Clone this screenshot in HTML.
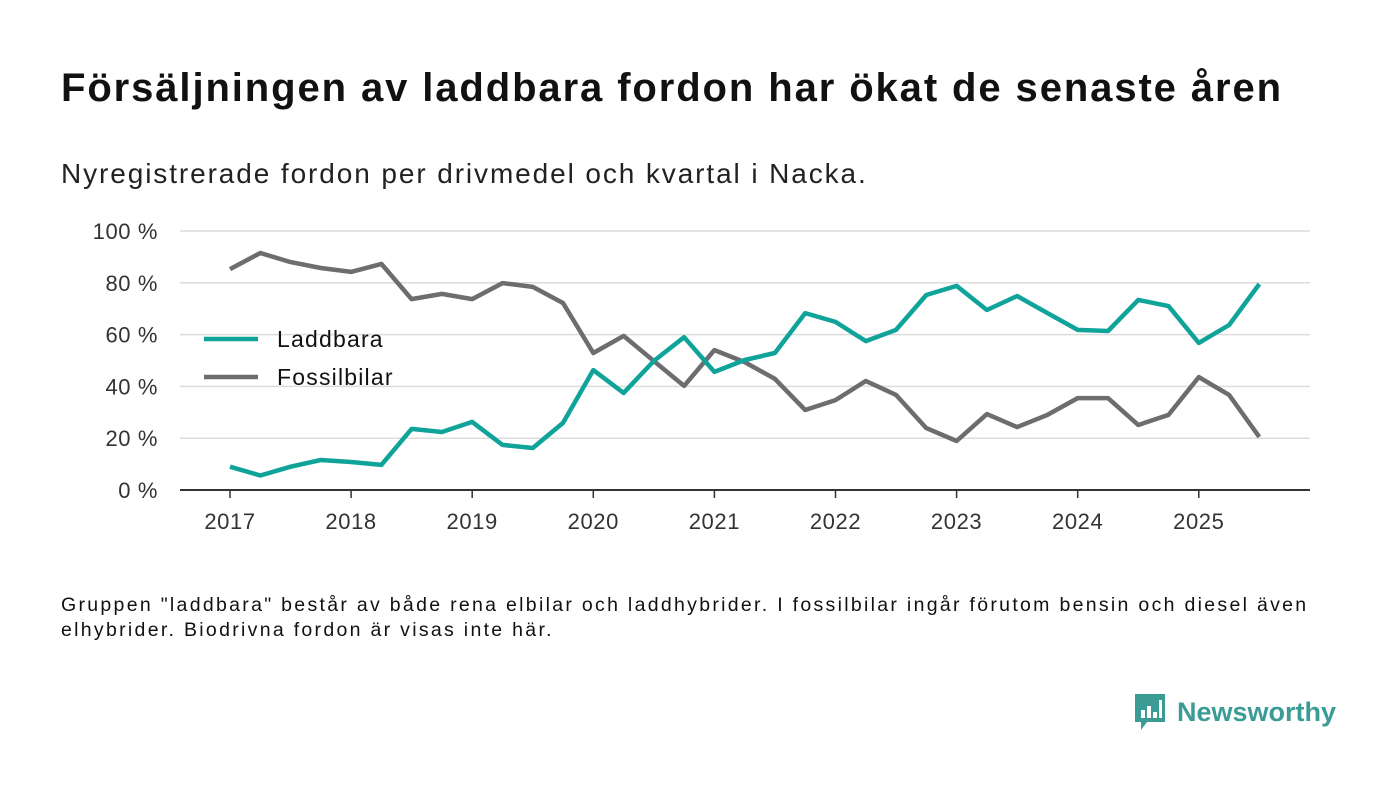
<!DOCTYPE html>
<html><head><meta charset="utf-8">
<style>
body{margin:0;width:1400px;height:793px;background:#fff;font-family:"Liberation Sans",sans-serif;overflow:hidden;position:relative}
#title{position:absolute;left:61px;top:66px;font-size:40px;font-weight:bold;color:#111;letter-spacing:1.9px;white-space:nowrap}
#sub{position:absolute;left:61px;top:158px;font-size:28px;color:#222;letter-spacing:1.9px;white-space:nowrap}
#note{position:absolute;left:61px;top:593px;font-size:19.5px;color:#111;line-height:25px;letter-spacing:2.3px;white-space:nowrap}
#logo{position:absolute;left:1133px;top:692px;display:flex;align-items:center}
#logo span{font-size:27px;font-weight:bold;color:#3b9c96;margin-left:10px}
svg text{font-family:"Liberation Sans",sans-serif}
</style></head><body>
<div id="title">Försäljningen av laddbara fordon har ökat de senaste åren</div>
<div id="sub">Nyregistrerade fordon per drivmedel och kvartal i Nacka.</div>
<svg id="chart" width="1400" height="793" style="position:absolute;left:0;top:0"></svg>
<div id="note">Gruppen "laddbara" består av både rena elbilar och laddhybrider. I fossilbilar ingår förutom bensin och diesel även<br>elhybrider. Biodrivna fordon är visas inte här.</div>
<div id="logo">
<svg width="34" height="40" viewBox="0 0 34 40"><path d="M2 2h30v28H14l-6 8v-8H2z" fill="#3b9c96"/><rect x="8" y="18" width="4" height="8" fill="#fff"/><rect x="14" y="14" width="4" height="12" fill="#fff"/><rect x="20" y="20" width="4" height="6" fill="#fff"/><rect x="26" y="8" width="3" height="18" fill="#fff"/></svg>
<span>Newsworthy</span></div>
<script>
const startYear = 2017;
const laddbara = [9,5.6,9,11.6,10.8,9.7,23.6,22.4,26.3,17.4,16.2,25.9,46.3,37.5,49.8,59,45.6,50.2,52.9,68.3,64.9,57.5,61.8,75.3,78.8,69.5,74.9,68.3,61.8,61.4,73.4,71,56.8,63.7,79.5];
const fossil = [85.3,91.5,88,85.7,84.2,87.3,73.7,75.7,73.7,79.9,78.4,72.2,52.9,59.5,49.8,40.2,54,49.4,42.9,30.9,34.7,42.1,36.7,23.9,18.9,29.3,24.3,29,35.5,35.5,25.1,29,43.6,36.7,20.5];
const yTicks = [0,20,40,60,80,100];
const xYears = [2017,2018,2019,2020,2021,2022,2023,2024,2025];
const NS="http://www.w3.org/2000/svg";
const svg=document.getElementById('chart');
const x=t=>230+(t-startYear)*121.1;
const y=v=>490-v*2.59;
function mk(tag,attrs){const e=document.createElementNS(NS,tag);for(const k in attrs)e.setAttribute(k,attrs[k]);svg.appendChild(e);return e;}
yTicks.forEach(v=>{
  if(v>0){const g=mk('line',{x1:180,x2:1310,y1:y(v),y2:y(v),stroke:'#dcdcdc','stroke-width':1.5});
  
  }
  const t=mk('text',{x:158,y:y(v)+8,'text-anchor':'end','font-size':22,'letter-spacing':0.6,fill:'#333'});t.textContent=v+' %';
  
  
});
const ax=mk('line',{x1:180,x2:1310,y1:490,y2:490,stroke:'#333','stroke-width':2});


xYears.forEach(yr=>{
  const tk=mk('line',{x1:x(yr),x2:x(yr),y1:490,y2:498,stroke:'#333','stroke-width':1.5});
  
  
  const t=mk('text',{x:x(yr),y:529,'text-anchor':'middle','font-size':22,'letter-spacing':0.6,fill:'#333'});t.textContent=yr;
  
  
});
function line(data,color,name){
  const d=data.map((v,i)=>(i?'L':'M')+x(startYear+i/4).toFixed(1)+' '+y(v).toFixed(1)).join(' ');
  const p=mk('path',{d:d,fill:'none',stroke:color,'stroke-width':4.5,'stroke-linejoin':'round'});
  
  
}
line(fossil,'#6d6d70','fossilbilar-line');
line(laddbara,'#0fa39a','laddbara-line');
[['Laddbara','#0fa39a',339],['Fossilbilar','#6d6d70',377]].forEach(([lab,c,yy])=>{
  const l=mk('line',{x1:204,x2:258,y1:yy,y2:yy,stroke:c,'stroke-width':4.5});
  
  
  const t=mk('text',{x:277,y:yy+8,'font-size':23,'letter-spacing':1.2,fill:'#111'});t.textContent=lab;
  
  
});
</script>
</body></html>
